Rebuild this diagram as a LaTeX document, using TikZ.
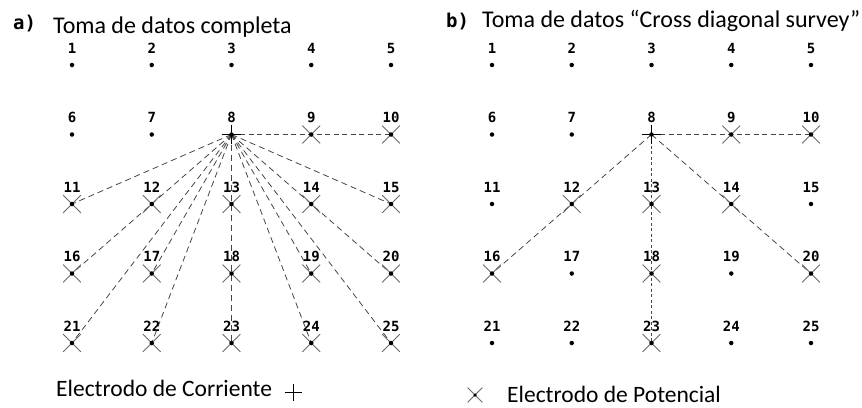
\documentclass[tikz,border=0pt]{standalone}
\usepackage{fontspec}
\setmainfont{Carlito}
\newfontfamily\numfont{DejaVu Sans Mono}
\usetikzlibrary{shapes.misc}
\usetikzlibrary{positioning}
\usetikzlibrary{backgrounds}

\definecolor{xgray}{RGB}{105,105,105}
\definecolor{wiregray}{RGB}{70,70,70}

\tikzset{
  elec/.style={circle, fill=black, inner sep=0pt, minimum size=4.5pt},
  num/.style={font=\numfont\bfseries\fontsize{14}{14}\selectfont, inner sep=0pt},
  pot/.style={cross out, draw=xgray, line width=0.8pt, minimum size=17pt, inner sep=0pt},
  cur/.style={cross out, draw=black, rotate=45, line width=0.9pt, minimum size=12.5pt, inner sep=0pt},
  wire/.style={draw=wiregray, line width=0.8pt, dash pattern=on 6pt off 4pt},
  hwire/.style={draw=wiregray, line width=0.8pt, dash pattern=on 5pt off 3.5pt},
  vwire/.style={draw=wiregray, line width=0.8pt, dash pattern=on 3pt off 2.5pt},
  tag/.style={font=\numfont\bfseries\fontsize{19}{19}\selectfont, anchor=base west, inner sep=0pt},
  title/.style={font=\fontsize{24}{24}\selectfont, anchor=base west, inner sep=0pt},
  legend/.style={font=\fontsize{23.5}{23.5}\selectfont, anchor=base west, inner sep=0pt}
}

\begin{document}
\begin{tikzpicture}[x=1pt, y=-1pt]
  \useasboundingbox (0,0) rectangle (862,407);

  % Titles
  \node[tag] (tagA) at (13,29) {a)};
  \node[title] (titleA) at (53,33) {Toma de datos completa};
  \node[tag] (tagB) at (446,27) {b)};
  \node[title] (titleB) at (482,27) {Toma de datos “Cross diagonal survey”};

  % Electrode grids with numbers
  \foreach \r in {0,...,4} {
    \foreach \c in {1,...,5} {
      \pgfmathtruncatemacro{\n}{5*\r+\c}
      \pgfmathsetmacro{\ya}{65+69.5*\r}
      \pgfmathsetmacro{\xa}{72+79.75*(\c-1)}
      \pgfmathsetmacro{\xb}{492+79.75*(\c-1)}
      \node[elec] (a\n) at (\xa,\ya) {};
      \node[num] (la\n) at (\xa,\ya-17) {\n};
      \node[elec] (b\n) at (\xb,\ya) {};
      \node[num] (lb\n) at (\xb,\ya-17) {\n};
    }
  }

  \begin{scope}[on background layer]
    % Measurement lines a)
    \draw[hwire] (a8.center) -- (a10.center);
    \foreach \t in {11,16,21,17,22,23,24,19,25,20,15}
      \draw[wire] (a8.center) -- (a\t.center);

    % Measurement lines b)
    \draw[hwire] (b8.center) -- (b10.center);
    \draw[wire] (b8.center) -- (b16.center);
    \draw[wire] (b8.center) -- (b20.center);
    \draw[vwire] (b8.center) -- (b23.center);

    % Potential electrodes
    \foreach \t in {9,...,25}
      \node[pot] (xa\t) at (a\t) {};
    \foreach \t in {9,10,12,13,14,16,18,20,23}
      \node[pot] (xb\t) at (b\t) {};
  \end{scope}

  % Current electrodes
  \node[cur] (ca8) at (a8) {};
  \node[cur] (cb8) at (b8) {};

  % Legend
  \node[legend] (legCur) at (56,396) {Electrodo de Corriente};
  \node[cur, right=14pt of legCur.mid east, yshift=-4pt, minimum size=11pt] (symCur) {};
  \node[pot, minimum size=14pt] (symPot) at (475,395) {};
  \node[elec, minimum size=3.5pt] (dotPot) at (symPot) {};
  \node[legend] (legPot) at (507,402) {Electrodo de Potencial};
\end{tikzpicture}
\end{document}
